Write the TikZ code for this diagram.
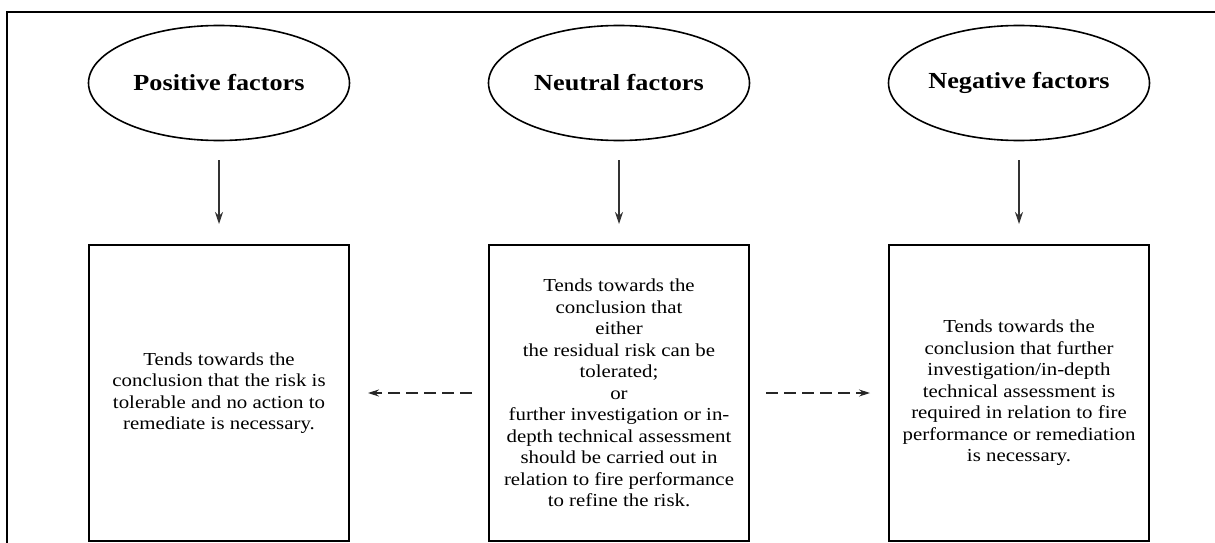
\documentclass[tikz,border=0pt]{standalone}
\usepackage{fontspec}
\setmainfont{Liberation Serif}[FakeStretch=1.14]
\usetikzlibrary{shapes.geometric,arrows.meta}
\begin{document}
\begin{tikzpicture}[x=1pt,y=-1pt,
  factor/.style={draw, ellipse, line width=1.6pt, minimum width=261pt, minimum height=115pt, inner sep=0pt,
    font=\fontsize{23}{27}\selectfont\bfseries},
  outcome/.style={draw, rectangle, line width=2pt, minimum width=260pt, minimum height=296pt, inner sep=4pt,
    align=center, font=\fontsize{18.3}{21.5}\selectfont},
  down/.style={draw=black!80, line width=1.2pt, -{Stealth[length=12pt,width=8pt]}, shorten <=19pt, shorten >=20pt},
  side/.style={draw=black!85, line width=1.1pt, dash pattern=on 12pt off 6pt, -{Stealth[length=11pt,width=7pt]}, shorten <=16pt, shorten >=18pt}
]
\useasboundingbox (0,0) rectangle (1215,543);
\draw[line width=2pt] (7,543) -- (7,12) -- (1215,12);

\node[factor] (pos) at (219,83) {Positive factors};
\node[factor] (neu) at (619,83) {Neutral factors};
\node[factor] (neg) at (1019,83) {Negative factors};

\node[outcome] (bpos) at (219,393) {Tends towards the\\conclusion that the risk is\\tolerable and no action to\\remediate is necessary.};
\node[outcome] (bneu) at (619,393) {Tends towards the\\conclusion that\\either\\the residual risk can be\\tolerated;\\or\\further investigation or in-\\depth technical assessment\\should be carried out in\\relation to fire performance\\to refine the risk.};
\node[outcome] (bneg) at (1019,393) {Tends towards the\\conclusion that further\\investigation/in-depth\\technical assessment is\\required in relation to fire\\performance or remediation\\is necessary.};

\draw[down] (pos) -- (bpos);
\draw[down] (neu) -- (bneu);
\draw[down] (neg) -- (bneg);

\draw[side] (bneu.west) -- (bpos.east);
\draw[side] (bneu.east) -- (bneg.west);
\end{tikzpicture}
\end{document}
